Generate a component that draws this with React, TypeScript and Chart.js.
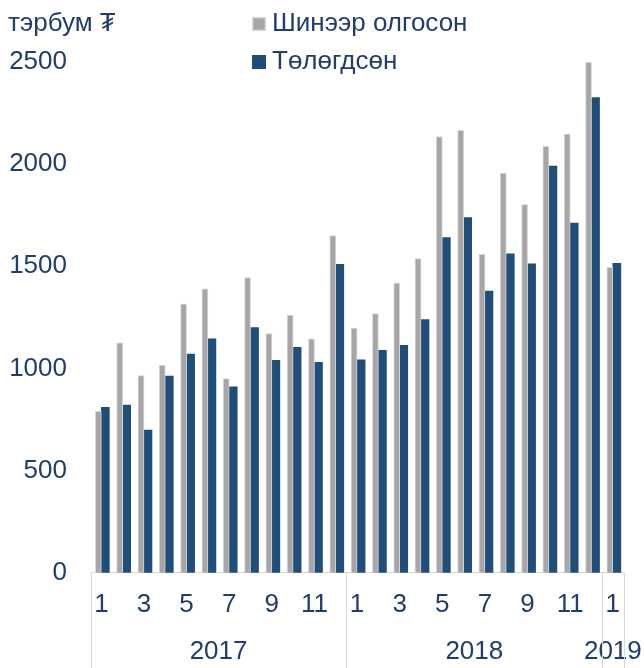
import React, { useEffect, useRef } from 'react';
import { Chart, registerables } from 'chart.js';

Chart.register(...registerables);

// ---- data ----
const months = ['1', '2', '3', '4', '5', '6', '7', '8', '9', '10', '11', '12', '1', '2', '3', '4', '5', '6', '7', '8', '9', '10', '11', '12', '1'];
const years = ['2017', '2018', '2019'];
const monthsPerYear = [12, 12, 1];
const newLoans = [790, 1125, 965, 1015, 1315, 1390, 950, 1445, 1170, 1260, 1145, 1650, 1198, 1268, 1418, 1538, 2135, 2165, 1558, 1955, 1802, 2087, 2147, 2498, 1495];
const repaid = [810, 820, 698, 963, 1070, 1145, 910, 1200, 1040, 1103, 1030, 1510, 1042, 1089, 1113, 1239, 1641, 1738, 1379, 1561, 1512, 1991, 1711, 2326, 1515];
const seriesNames = ['Шинээр олгосон', 'Төлөгдсөн'];
const unitLabel = 'тэрбум ₮';
const yMin = 0;
const yMax = 2500;
const yStep = 500;

// ---- styles ----
const FONT = '"Liberation Sans", Arial, "DejaVu Sans", sans-serif';
const FONT_SIZE = 26;
const TEXT = '#213D6B';
const GRAY = '#A7A5A5';
const GRAY_EDGE = '#D6D5D5';
const BLUE = '#1F4E79';
const LINE = '#D9D9D9';

const yearStarts: number[] = [];
monthsPerYear.reduce((acc, n) => {
  yearStarts.push(acc);
  return acc + n;
}, 0);
const yearCenters = yearStarts.map((s, i) => s + monthsPerYear[i] / 2);
const boundaries = [...yearStarts, months.length];

const separatorPlugin = {
  id: 'separators',
  afterDraw(chart: any) {
    const ctx = chart.ctx;
    const x2 = chart.scales.x2;
    const xs = chart.scales.x;
    ctx.save();
    ctx.strokeStyle = LINE;
    ctx.lineWidth = 1;
    boundaries.forEach((b) => {
      const px = Math.round(x2.getPixelForValue(b)) + 0.5;
      ctx.beginPath();
      ctx.moveTo(px, xs.top);
      ctx.lineTo(px, chart.height);
      ctx.stroke();
    });
    ctx.restore();
  },
};

const legendPlugin = {
  id: 'customLegend',
  afterDraw(chart: any) {
    const ctx = chart.ctx;
    ctx.save();
    ctx.font = `${FONT_SIZE}px ${FONT}`;
    ctx.fillStyle = TEXT;
    ctx.textBaseline = 'middle';
    ctx.textAlign = 'left';
    ctx.fillText(unitLabel, 8, 24);
    const rows = [24, 62];
    chart.data.datasets.forEach((ds: any, i: number) => {
      const cy = rows[i];
      ctx.fillStyle = ds.backgroundColor;
      ctx.fillRect(252, cy - 7, 14, 14);
      if (ds.borderWidth) {
        ctx.strokeStyle = ds.borderColor;
        ctx.lineWidth = 1.5;
        ctx.strokeRect(252.75, cy - 6.25, 12.5, 12.5);
      }
      ctx.fillStyle = TEXT;
      ctx.fillText(ds.label, 272, cy);
    });
    ctx.restore();
  },
};

export default function App() {
  const ref = useRef<HTMLCanvasElement | null>(null);

  useEffect(() => {
    if (!ref.current) return;
    const chart = new Chart(ref.current, {
      type: 'bar',
      data: {
        labels: months,
        datasets: [
          {
            label: seriesNames[0],
            data: newLoans,
            backgroundColor: GRAY,
            borderColor: GRAY_EDGE,
            borderWidth: 1,
            barThickness: 6,
            xAxisID: 'x',
            yAxisID: 'y',
          },
          {
            label: seriesNames[1],
            data: repaid,
            backgroundColor: BLUE,
            borderWidth: 0,
            barThickness: 8,
            xAxisID: 'x',
            yAxisID: 'y',
          },
        ],
      },
      options: {
        animation: false,
        responsive: false,
        maintainAspectRatio: false,
        layout: { padding: { top: 62, left: 0, right: 20.5, bottom: 0.7 } },
        plugins: {
          legend: { display: false },
          tooltip: { enabled: false },
          title: { display: false },
        },
        scales: {
          x: {
            type: 'category',
            position: 'bottom',
            weight: 0,
            offset: true,
            grid: { display: false, drawTicks: false },
            border: { display: true, color: LINE, width: 1 },
            afterFit: (s: any) => {
              s.height = 47.4;
              s.paddingLeft = 0;
              s.paddingRight = 0;
            },
            ticks: {
              autoSkip: false,
              maxRotation: 0,
              minRotation: 0,
              padding: 16.4,
              color: TEXT,
              font: { size: FONT_SIZE, family: FONT },
              callback: (_v: any, i: number) => (Number(months[i]) % 2 === 1 ? months[i] : ''),
            },
          },
          x2: {
            type: 'linear',
            position: 'bottom',
            weight: 1,
            offset: false,
            bounds: 'data',
            min: 0,
            max: months.length,
            grid: { display: false, drawTicks: false, offset: false },
            border: { display: false },
            afterBuildTicks: (s: any) => {
              s.ticks = yearCenters.map((v) => ({ value: v }));
            },
            afterFit: (s: any) => {
              s.height = 47.2;
              s.paddingLeft = 0;
              s.paddingRight = 0;
            },
            ticks: {
              autoSkip: false,
              maxRotation: 0,
              minRotation: 0,
              padding: 16.6,
              color: TEXT,
              font: { size: FONT_SIZE, family: FONT },
              callback: (_v: any, i: number) => years[i],
            },
          },
          y: {
            type: 'linear',
            min: yMin,
            max: yMax,
            grid: { display: false, drawTicks: false },
            border: { display: false },
            afterFit: (s: any) => {
              s.width = 90.7;
              s.paddingTop = 0;
              s.paddingBottom = 0;
            },
            ticks: {
              stepSize: yStep,
              padding: 23.7,
              color: TEXT,
              font: { size: FONT_SIZE, family: FONT },
              callback: (v: any) => String(v),
            },
          },
        },
      },
      plugins: [separatorPlugin, legendPlugin],
    });
    return () => chart.destroy();
  }, []);

  return (
    <div style={{ position: 'absolute', left: 0, top: 0, width: 644, height: 668 }}>
      <canvas ref={ref} width={644} height={668} style={{ display: 'block' }} />
    </div>
  );
}
